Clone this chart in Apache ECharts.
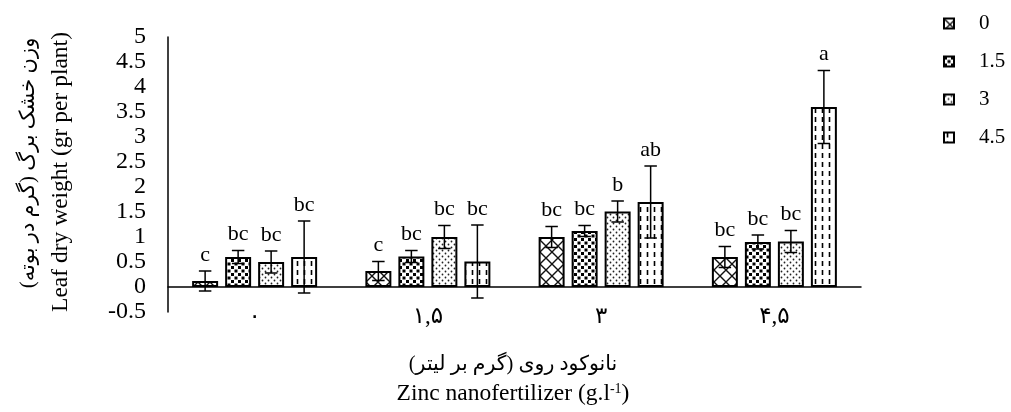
<!DOCTYPE html>
<html>
<head>
<meta charset="utf-8">
<script src="https://cdn.jsdelivr.net/npm/echarts@6/dist/echarts.min.js"></script>
<style>html,body{margin:0;padding:0;background:#fff}#chart{width:1011px;height:412px}</style>
</head>
<body>
<div id="chart"></div>
<script>
// ---- data ----
var categories = ['۰', '۱,۵', '۳', '۴,۵'];
var seriesNames = ['0', '1.5', '3', '4.5'];
var values0  = [0.12, 0.32, 1.00, 0.60];
var values15 = [0.60, 0.61, 1.12, 0.90];
var values3  = [0.50, 1.00, 1.51, 0.91];
var values45 = [0.60, 0.51, 1.70, 3.60];
var err0  = [0.20, 0.19, 0.21, 0.21];
var err15 = [0.13, 0.12, 0.11, 0.14];
var err3  = [0.22, 0.23, 0.21, 0.22];
var err45 = [0.72, 0.73, 0.72, 0.73];
var letters0  = ['c', 'c', 'bc', 'bc'];
var letters15 = ['bc', 'bc', 'bc', 'bc'];
var letters3  = ['bc', 'bc', 'b', 'bc'];
var letters45 = ['bc', 'bc', 'ab', 'a'];
var yTicks = { min: -0.5, max: 5, interval: 0.5 };

var allValues = [values0, values15, values3, values45];
var allErrors = [err0, err15, err3, err45];
var allLetters = [letters0, letters15, letters3, letters45];

// ---- patterns ----
function pattern(kind) {
  var c = document.createElement('canvas');
  var ctx;
  if (kind === 0) {
    c.width = 12; c.height = 12; ctx = c.getContext('2d');
    ctx.fillStyle = '#fff'; ctx.fillRect(0, 0, 12, 12);
    ctx.strokeStyle = '#111'; ctx.lineWidth = 1.4;
    ctx.beginPath();
    ctx.moveTo(-2, 14); ctx.lineTo(14, -2);
    ctx.moveTo(-2, -2); ctx.lineTo(14, 14);
    ctx.stroke();
  } else if (kind === 1) {
    c.width = 7; c.height = 7; ctx = c.getContext('2d');
    ctx.fillStyle = '#fff'; ctx.fillRect(0, 0, 7, 7);
    ctx.fillStyle = '#000';
    ctx.fillRect(0, 0, 3, 3);
    ctx.fillRect(3.5, 3.5, 3, 3);
  } else if (kind === 2) {
    c.width = 6; c.height = 6; ctx = c.getContext('2d');
    ctx.fillStyle = '#fff'; ctx.fillRect(0, 0, 6, 6);
    ctx.fillStyle = '#222';
    ctx.beginPath(); ctx.arc(1.5, 1.5, 0.9, 0, Math.PI * 2); ctx.fill();
    ctx.beginPath(); ctx.arc(4.5, 4.5, 0.9, 0, Math.PI * 2); ctx.fill();
  } else {
    c.width = 7; c.height = 9; ctx = c.getContext('2d');
    ctx.fillStyle = '#fff'; ctx.fillRect(0, 0, 7, 9);
    ctx.strokeStyle = '#000'; ctx.lineWidth = 1.6;
    ctx.beginPath(); ctx.moveTo(3.5, 0); ctx.lineTo(3.5, 5); ctx.stroke();
  }
  return { image: c, repeat: 'repeat' };
}

var BAR_FRAC = 0.15;   // bar width as a fraction of the category band
var GAP_FRAC = 0.27;   // gap between bars as a fraction of bar width
var SERIF = '"Liberation Serif", "DejaVu Sans", serif';

var barSeries = seriesNames.map(function (name, i) {
  return {
    name: name,
    type: 'bar',
    xAxisIndex: 0,
    barWidth: (BAR_FRAC * 100) + '%',
    barGap: (GAP_FRAC * 100) + '%',
    data: allValues[i],
    itemStyle: { color: pattern(i), borderColor: '#000', borderWidth: 2 },
    emphasis: { disabled: true },
    z: 2
  };
});

var errData = [];
for (var s = 0; s < 4; s++) {
  for (var k = 0; k < categories.length; k++) {
    var v = allValues[s][k], e = allErrors[s][k];
    errData.push([k, s, v - e, v + e, allLetters[s][k]]);
  }
}

var errSeries = {
  type: 'custom',
  xAxisIndex: 0,
  z: 5,
  silent: true,
  data: errData,
  encode: { x: 0, y: [2, 3] },
  renderItem: function (params, api) {
    var cat = api.value(0), si = api.value(1);
    var lo = api.value(2), hi = api.value(3);
    var letter = errData[params.dataIndex][4];
    var band = api.size([1, 0])[0];
    var bw = band * BAR_FRAC, gap = bw * GAP_FRAC;
    var off = (si - 1.5) * (bw + gap);
    var pt = api.coord([cat, hi]);
    var pb = api.coord([cat, lo]);
    var x = pt[0] + off;
    var cap = bw * 0.24;
    var ls = { stroke: '#000', lineWidth: 1.5 };
    return {
      type: 'group',
      children: [
        { type: 'line', shape: { x1: x, y1: pt[1], x2: x, y2: pb[1] }, style: ls },
        { type: 'line', shape: { x1: x - cap, y1: pt[1], x2: x + cap, y2: pt[1] }, style: ls },
        { type: 'line', shape: { x1: x - cap, y1: pb[1], x2: x + cap, y2: pb[1] }, style: ls },
        { type: 'text', style: { text: letter, x: x, y: pt[1] - 5, align: 'center', verticalAlign: 'bottom',
            fontSize: 22, fontFamily: SERIF, fill: '#000' } }
      ]
    };
  }
};

var chart = echarts.init(document.getElementById('chart'), null, { renderer: 'canvas' });
chart.setOption({
  animation: false,
  backgroundColor: '#fff',
  grid: { left: 168, right: 150, top: 37, bottom: 100, containLabel: false },
  legend: {
    data: seriesNames,
    orient: 'vertical',
    left: 938,
    top: 8,
    itemWidth: 10,
    itemHeight: 10,
    itemGap: 17,
    icon: 'rect',
    selectedMode: false,
    textStyle: { fontSize: 21, fontFamily: SERIF, color: '#000', lineHeight: 21, padding: [0, 0, 0, 20] },
    itemStyle: { borderColor: '#000', borderWidth: 2 }
  },
  xAxis: [
    {
      type: 'category',
      data: categories,
      axisLine: { show: true, onZero: true, lineStyle: { color: '#000', width: 1.5 } },
      axisTick: { show: false },
      axisLabel: { show: false },
      splitLine: { show: false }
    },
    {
      type: 'category',
      data: categories,
      position: 'bottom',
      axisLine: { show: false, onZero: false },
      axisTick: { show: false },
      axisLabel: { show: true, fontSize: 23, fontFamily: SERIF, color: '#000', margin: -7 },
      splitLine: { show: false }
    }
  ],
  yAxis: {
    type: 'value',
    min: yTicks.min,
    max: yTicks.max,
    interval: yTicks.interval,
    axisLine: { show: true, lineStyle: { color: '#000', width: 1.5 } },
    axisTick: { show: false },
    splitLine: { show: false },
    axisLabel: { fontSize: 24, fontFamily: SERIF, color: '#000', margin: 22 }
  },
  graphic: [
    { type: 'text', x: 61, y: 172, rotation: Math.PI / 2,
      style: { text: 'Leaf dry weight (gr per plant)', fontSize: 23.5, fontFamily: SERIF, fill: '#000', align: 'center', verticalAlign: 'middle' } },
    { type: 'text', x: 28, y: 163, rotation: Math.PI / 2,
      style: { text: '\u200Fوزن خشک برگ (گرم در بوته)\u200F', fontSize: 21, fontFamily: SERIF, fill: '#000', align: 'center', verticalAlign: 'middle' } },
    { type: 'text', x: 513, y: 365,
      style: { text: '\u200Fنانوکود روی (گرم بر لیتر)\u200F', fontSize: 20.5, fontFamily: SERIF, fill: '#000', align: 'center', verticalAlign: 'middle' } },
    { type: 'text', x: 513, y: 394,
      style: { text: '{m|Zinc nanofertilizer (g.l}{s|-1}{m|)}', align: 'center', verticalAlign: 'middle',
        rich: { m: { fontSize: 23.5, fontFamily: SERIF, fill: '#000', verticalAlign: 'bottom' },
                s: { fontSize: 14, fontFamily: SERIF, fill: '#000', verticalAlign: 'top' } } } }
  ],
  series: barSeries.concat([errSeries])
});
</script>
</body>
</html>
